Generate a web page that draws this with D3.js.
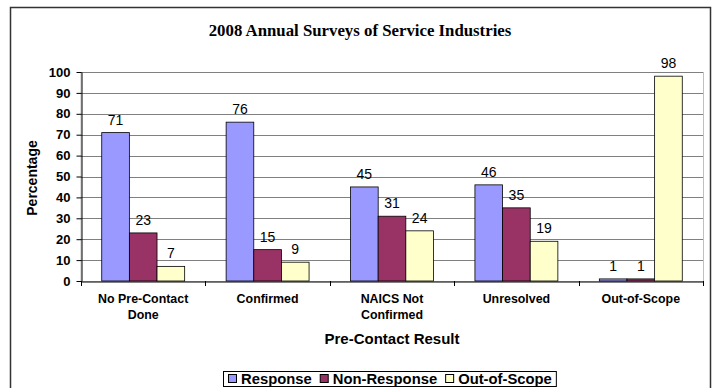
<!DOCTYPE html>
<html>
<head>
<meta charset="utf-8">
<script src="https://cdn.jsdelivr.net/npm/d3@7"></script>
<style>
  html, body { margin: 0; padding: 0; background: #fff; }
  svg { display: block; }
</style>
</head>
<body>
<svg id="chart" width="715" height="388"></svg>
<script>
// Pre-contact outcome categories and the share of cases in each survey result
const categories = [["No Pre-Contact", "Done"], ["Confirmed"], ["NAICS Not", "Confirmed"], ["Unresolved"], ["Out-of-Scope"]];
const seriesNames = ["Response", "Non-Response", "Out-of-Scope"];
const response = [71, 76, 45, 46, 1];
const nonResponse = [23, 15, 31, 35, 1];
const outOfScope = [7, 9, 24, 19, 98];
const yTicks = [0, 10, 20, 30, 40, 50, 60, 70, 80, 90, 100];
const colors = ["#9999FF", "#993366", "#FFFFCC"];

const seriesValues = [response, nonResponse, outOfScope];
const svg = d3.select("#chart");
const sans = "Arial, 'Liberation Sans', sans-serif";

// outer chart frame
svg.append("rect")
  .attr("x", 10.5).attr("y", 7.5).attr("width", 700).attr("height", 392)
  .attr("fill", "#fff").attr("stroke", "#333").attr("stroke-width", 1.5);

svg.append("text")
  .attr("x", 360).attr("y", 36)
  .attr("text-anchor", "middle")
  .attr("font-family", "'Times New Roman', 'Liberation Serif', serif")
  .attr("font-weight", "bold").attr("font-size", 16.8)
  .text("2008 Annual Surveys of Service Industries");

const plot = { left: 81, right: 703, top: 72, bottom: 281 };

const y = d3.scaleLinear().domain([0, 100]).range([plot.bottom, plot.top]);
const x0 = d3.scaleBand().domain(d3.range(categories.length))
  .range([plot.left, plot.right]).paddingInner(0).paddingOuter(0);
// three bars per group, with 1.5 bar widths of gap spread around each group
const barW = x0.bandwidth() / 4.5;
const x1 = d3.scaleBand().domain(d3.range(seriesNames.length))
  .range([barW * 0.75, barW * 3.75]).padding(0);

// plot area border (light) and horizontal gridlines
svg.append("rect")
  .attr("x", plot.left).attr("y", plot.top + 0.5)
  .attr("width", plot.right - plot.left + 0.5).attr("height", plot.bottom - plot.top)
  .attr("fill", "none").attr("stroke", "#c0c0c0");

svg.append("g").selectAll("line")
  .data(yTicks.filter(d => d > 0))
  .join("line")
  .attr("x1", plot.left).attr("x2", plot.right)
  .attr("y1", d => Math.round(y(d)) + 0.5).attr("y2", d => Math.round(y(d)) + 0.5)
  .attr("stroke", "#808080");

// y axis
const yAxis = svg.append("g")
  .attr("transform", `translate(${plot.left + 0.5},0)`)
  .call(d3.axisLeft(y).tickValues(yTicks).tickSize(5).tickPadding(6).tickSizeOuter(0));
yAxis.select(".domain").attr("stroke", "#000");
yAxis.selectAll(".tick line").attr("stroke", "#000");
yAxis.selectAll(".tick text")
  .attr("font-family", sans).attr("font-weight", "bold").attr("font-size", 13).attr("fill", "#000");

svg.append("text")
  .attr("transform", "translate(37,178) rotate(-90)")
  .attr("text-anchor", "middle")
  .attr("font-family", sans).attr("font-weight", "bold").attr("font-size", 14)
  .text("Percentage");

// bars
const groups = svg.append("g").selectAll("g")
  .data(categories.map((c, i) => i))
  .join("g")
  .attr("transform", i => `translate(${x0(i)},0)`);

groups.selectAll("rect")
  .data(i => seriesValues.map((vals, s) => ({ s, v: vals[i] })))
  .join("rect")
  .attr("x", d => x1(d.s))
  .attr("y", d => y(d.v))
  .attr("width", x1.bandwidth())
  .attr("height", d => y(0) - y(d.v))
  .attr("fill", d => colors[d.s])
  .attr("stroke", "#000").attr("stroke-width", 0.8);

groups.selectAll("text")
  .data(i => seriesValues.map((vals, s) => ({ s, v: vals[i] })))
  .join("text")
  .attr("x", d => x1(d.s) + x1.bandwidth() / 2)
  .attr("y", d => y(d.v) - 8)
  .attr("text-anchor", "middle")
  .attr("font-family", sans).attr("font-size", 14)
  .text(d => d.v);

// x axis
const xAxis = svg.append("g")
  .attr("transform", `translate(0,${plot.bottom + 0.5})`)
  .call(d3.axisBottom(x0).tickSize(0).tickFormat(""));
xAxis.select(".domain").attr("stroke", "#000");
svg.append("g").selectAll("line")
  .data(d3.range(categories.length + 1))
  .join("line")
  .attr("x1", i => Math.round(plot.left + i * x0.bandwidth()) + 0.5)
  .attr("x2", i => Math.round(plot.left + i * x0.bandwidth()) + 0.5)
  .attr("y1", plot.bottom).attr("y2", plot.bottom + 5)
  .attr("stroke", "#000");

svg.append("g").selectAll("text")
  .data(categories.map((c, i) => ({ c, i })))
  .join("text")
  .attr("x", d => x0(d.i) + x0.bandwidth() / 2)
  .attr("y", 303)
  .attr("text-anchor", "middle")
  .attr("font-family", sans).attr("font-weight", "bold").attr("font-size", 12.4)
  .selectAll("tspan")
  .data(d => d.c)
  .join("tspan")
  .attr("x", function () { return this.parentNode.getAttribute("x"); })
  .attr("dy", (d, j) => j === 0 ? 0 : 16)
  .text(d => d);

svg.append("text")
  .attr("x", (plot.left + plot.right) / 2).attr("y", 344)
  .attr("text-anchor", "middle")
  .attr("font-family", sans).attr("font-weight", "bold").attr("font-size", 15)
  .text("Pre-Contact Result");

// legend
const legend = svg.append("g");
const legendBox = legend.append("rect")
  .attr("fill", "#fff").attr("stroke", "#000");
let lx = 228;
seriesNames.forEach((name, s) => {
  legend.append("rect")
    .attr("x", lx + 0.5).attr("y", 374.5).attr("width", 8).attr("height", 8)
    .attr("fill", colors[s]).attr("stroke", "#000");
  const t = legend.append("text")
    .attr("x", lx + 13).attr("y", 384)
    .attr("font-family", sans).attr("font-weight", "bold").attr("font-size", 14.8)
    .text(name);
  lx += 13 + t.node().getComputedTextLength() + 8;
});
legendBox.attr("x", 223.5).attr("y", 371.5).attr("width", lx - 223 - 4).attr("height", 15);
</script>
</body>
</html>
